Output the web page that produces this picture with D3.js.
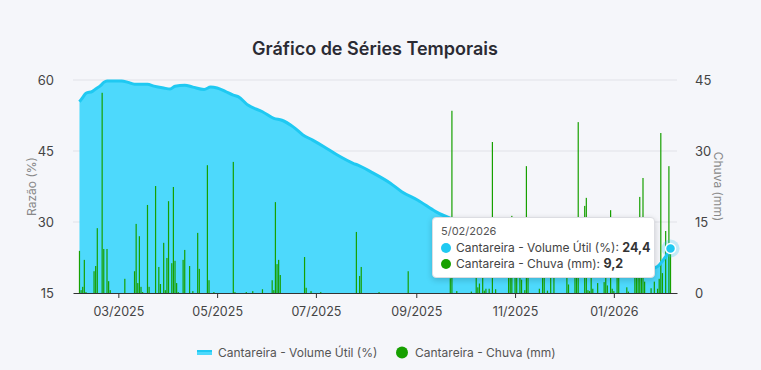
<!DOCTYPE html>
<html>
<head>
<meta charset="utf-8">
<script src="https://cdn.jsdelivr.net/npm/d3@7"></script>
<style>
body { margin: 0; background: #f5f6fa; font-family: Inter, "Noto Sans", sans-serif; }
#wrap { position: relative; width: 761px; height: 370px; }
.tip { position: absolute; background: #fff; border: 1px solid #dcdde2; border-radius: 4px;
       box-shadow: 0 2px 6px rgba(0,0,0,0.18); padding: 7px 8px 6px 8px; color: #444; }
.tip .date { font-size: 11px; line-height: 13px; color: #555; margin-bottom: 2px; }
.tip .row { font-size: 12px; line-height: 15.5px; white-space: nowrap; }
.tip .dot { display: inline-block; width: 10px; height: 10px; border-radius: 50%; margin-right: 5px; vertical-align: -1px; }
.tip b { color: #333; font-size: 12.5px; }
</style>
</head>
<body>
<div id="wrap"></div>
<script>
//series start (day 0) and end
var startDate = "2025-02-05";
var lastDay = 365;

//volume util (%), [day offset]
var volDays = [0, 2, 4, 8, 10, 13, 15, 17, 26, 30, 34, 42, 46, 52, 56, 59, 65, 70, 77, 81, 85, 90, 95, 98,
    104, 113, 120, 125, 132, 138, 144, 151, 159, 169, 172, 180, 192, 199, 209, 220, 235, 250, 265, 280,
    295, 310, 325, 340, 350, 355, 357, 362, 365];
var volPct = [55.4, 56.3, 57.2, 57.6, 58.1, 58.8, 59.5, 59.8, 59.8, 59.5, 59.1, 59.1, 58.7, 58.3, 58.1, 58.7,
    58.9, 58.5, 58.0, 58.5, 58.3, 57.6, 56.8, 56.5, 54.7, 53.3, 51.9, 51.5, 50.1, 48.4, 47.3, 45.9, 44.2,
    42.4, 42.0, 40.6, 38.2, 36.4, 34.6, 32.2, 30.0, 28.0, 26.0, 24.0, 22.6, 21.4, 20.6, 20.1, 20.0, 20.3,
    20.6, 22.7, 24.4];

//rain (mm), only days with rain, [day offset]
var rainDays = [0, 1, 2, 3, 4, 9, 10, 11, 14, 15, 17, 18, 19, 28, 34, 35, 36, 37, 38, 39, 42, 43, 47, 49, 50,
    52, 53, 54, 55, 57, 58, 59, 60, 61, 64, 65, 68, 70, 73, 74, 79, 80, 83, 95, 96, 103, 107, 113, 119, 120,
    121, 122, 123, 124, 139, 140, 143, 149, 171, 173, 174, 185, 203, 229, 230, 233, 242, 245, 246, 247, 249,
    250, 251, 253, 255, 257, 265, 266, 267, 269, 270, 272, 273, 275, 276, 277, 284, 286, 287, 289, 291, 293,
    301, 302, 306, 307, 308, 312, 313, 314, 315, 316, 317, 320, 324, 325, 326, 328, 329, 330, 332, 333, 338,
    339, 343, 344, 345, 346, 347, 348, 349, 353, 355, 357, 358, 359, 360, 362, 364, 365];
var rainMm = [8.9, 0.6, 1.3, 7.0, 0.2, 4.6, 5.7, 13.7, 42.3, 9.3, 9.3, 2.5, 0.6, 3.0, 4.6, 14.6, 2.1, 12.0, 1.3,
    0.2, 18.6, 1.3, 22.6, 5.5, 1.9, 10.6, 0.6, 7.4, 19.4, 6.3, 22.4, 6.8, 2.1, 0.2, 7.0, 9.1, 5.7, 0.4, 12.7,
    5.1, 27.0, 2.7, 0.2, 27.7, 0.2, 0.2, 0.4, 0.8, 2.7, 0.6, 19.2, 6.1, 7.0, 3.8, 7.6, 1.1, 0.4, 0.2, 12.9,
    3.6, 5.5, 0.2, 4.6, 3.1, 38.5, 0.4, 0.3, 4.5, 1.2, 2.0, 6.0, 0.5, 0.9, 0.9, 31.9, 0.8, 5.0, 8.0, 16.3,
    6.0, 4.5, 10.0, 2.8, 0.6, 26.8, 4.0, 0.9, 5.0, 7.0, 0.5, 4.5, 6.0, 4.0, 1.8, 5.0, 4.0, 36.1, 18.4, 20.1,
    0.6, 0.4, 4.0, 0.9, 2.1, 2.3, 6.0, 1.6, 17.5, 0.9, 0.4, 5.0, 4.0, 1.2, 0.3, 4.5, 6.0, 7.0, 20.3, 5.0,
    24.3, 2.4, 1.0, 2.4, 0.9, 3.0, 33.8, 4.2, 13.1, 26.8, 9.2];

//axis ticks and labels
var volTicks = [15, 30, 45, 60];
var rainTicks = [0, 15, 30, 45];
var titleText = "Gráfico de Séries Temporais";
var volName = "Cantareira - Volume Útil (%)";
var rainName = "Cantareira - Chuva (mm)";

var volColor = "#1fc9f2", areaColor = "#4dd9fc", rainColor = "#17a000";

var width = 761, height = 370;
var pLeft = 73, pRight = 677, pTop = 80, pBottom = 293;

var t0 = d3.timeParse("%Y-%m-%d")(startDate);
function dayDate(d){ return d3.timeDay.offset(t0, d); }

var volData = volDays.map(function(d, i){ return {date: dayDate(d), v: volPct[i]}; });
var rainData = rainDays.map(function(d, i){ return {date: dayDate(d), v: rainMm[i]}; });

var svg = d3.select("#wrap").append("svg")
    .attr("width", width)
    .attr("height", height);

//scales, 4 days of padding each side
var x = d3.scaleTime()
    .domain([dayDate(-4), dayDate(lastDay + 4)])
    .range([pLeft, pRight]);
var yL = d3.scaleLinear().domain([15, 60]).range([pBottom, pTop]);
var yR = d3.scaleLinear().domain([0, 45]).range([pBottom, pTop]);

//title
svg.append("text")
    .attr("x", 375).attr("y", 55)
    .attr("text-anchor", "middle")
    .attr("font-size", 18).attr("font-weight", 600)
    .attr("fill", "#2b2b33")
    .text(titleText);

//grid lines
svg.selectAll(".grid")
    .data(volTicks.slice(1))
    .enter().append("line")
    .attr("x1", pLeft).attr("x2", pRight)
    .attr("y1", function(d){ return yL(d); })
    .attr("y2", function(d){ return yL(d); })
    .attr("stroke", "#e1e2e8");

//volume area + line
var area = d3.area()
    .curve(d3.curveMonotoneX)
    .x(function(d){ return x(d.date); })
    .y0(pBottom)
    .y1(function(d){ return yL(d.v); });
var line = d3.line()
    .curve(d3.curveMonotoneX)
    .x(function(d){ return x(d.date); })
    .y(function(d){ return yL(d.v); });

svg.append("path").datum(volData)
    .attr("d", area)
    .attr("fill", areaColor);

//rain bars
svg.selectAll(".bar")
    .data(rainData)
    .enter().append("rect")
    .attr("class", "bar")
    .attr("x", function(d){ return x(d.date) - 0.6; })
    .attr("width", 1.2)
    .attr("y", function(d){ return yR(d.v); })
    .attr("height", function(d){ return pBottom - yR(d.v); })
    .attr("fill", rainColor);

svg.append("path").datum(volData)
    .attr("d", line)
    .attr("fill", "none")
    .attr("stroke", volColor)
    .attr("stroke-width", 3);

//axes
var xAxis = svg.append("g")
    .attr("transform", "translate(0," + pBottom + ")")
    .call(d3.axisBottom(x).ticks(d3.timeMonth.every(2)).tickFormat(d3.timeFormat("%m/%Y")).tickSize(5).tickSizeOuter(0));
xAxis.selectAll("path, line").attr("stroke", "#333");
xAxis.selectAll("text").attr("font-size", 12.5).attr("fill", "#444").attr("dy", "1.2em")
    .attr("font-family", "Inter");

var yAxisL = svg.append("g")
    .attr("transform", "translate(" + (pLeft - 16) + ",0)")
    .call(d3.axisLeft(yL).tickValues(volTicks).tickSize(0));
yAxisL.select(".domain").remove();
yAxisL.selectAll("text").attr("font-size", 13).attr("fill", "#444").attr("font-family", "Inter");

var yAxisR = svg.append("g")
    .attr("transform", "translate(" + (pRight + 15) + ",0)")
    .call(d3.axisRight(yR).tickValues(rainTicks).tickSize(0));
yAxisR.select(".domain").remove();
yAxisR.selectAll("text").attr("font-size", 13).attr("fill", "#444").attr("font-family", "Inter");

//axis titles
svg.append("text")
    .attr("transform", "translate(36," + ((pTop + pBottom) / 2) + ") rotate(-90)")
    .attr("text-anchor", "middle")
    .attr("font-size", 12).attr("fill", "#888")
    .text("Razão (%)");
svg.append("text")
    .attr("transform", "translate(714," + ((pTop + pBottom) / 2) + ") rotate(90)")
    .attr("text-anchor", "middle")
    .attr("font-size", 12).attr("fill", "#888")
    .text("Chuva (mm)");

//hovered point
var last = volData[volData.length - 1];
svg.append("circle")
    .attr("cx", x(last.date)).attr("cy", yL(last.v)).attr("r", 9)
    .attr("fill", volColor).attr("opacity", 0.25);
svg.append("circle")
    .attr("cx", x(last.date)).attr("cy", yL(last.v)).attr("r", 5)
    .attr("fill", volColor).attr("stroke", "#fff").attr("stroke-width", 1.5);

//legend
var leg = svg.append("g").attr("font-size", 12).attr("fill", "#555");
leg.append("rect").attr("x", 197).attr("y", 350).attr("width", 15).attr("height", 5).attr("fill", areaColor);
leg.append("rect").attr("x", 197).attr("y", 350).attr("width", 15).attr("height", 2).attr("fill", volColor);
leg.append("text").attr("x", 218).attr("y", 356.5).text(volName);
leg.append("circle").attr("cx", 402).attr("cy", 352.5).attr("r", 6).attr("fill", rainColor);
leg.append("text").attr("x", 415).attr("y", 356.5).text(rainName);

//tooltip
var fmt = d3.format(".1f");
var lastRain = rainData[rainData.length - 1];
var tip = d3.select("#wrap").append("div")
    .attr("class", "tip")
    .style("left", "432px").style("top", "217px").style("width", "205px");
tip.append("div").attr("class", "date").text(d3.timeFormat("%-d/%m/%Y")(last.date));
var r1 = tip.append("div").attr("class", "row");
r1.append("span").attr("class", "dot").style("background", volColor);
r1.append("span").text(volName + ": ");
r1.append("b").text(fmt(last.v).replace(".", ","));
var r2 = tip.append("div").attr("class", "row");
r2.append("span").attr("class", "dot").style("background", rainColor);
r2.append("span").text(rainName + ": ");
r2.append("b").text(fmt(lastRain.v).replace(".", ","));
</script>
</body>
</html>
